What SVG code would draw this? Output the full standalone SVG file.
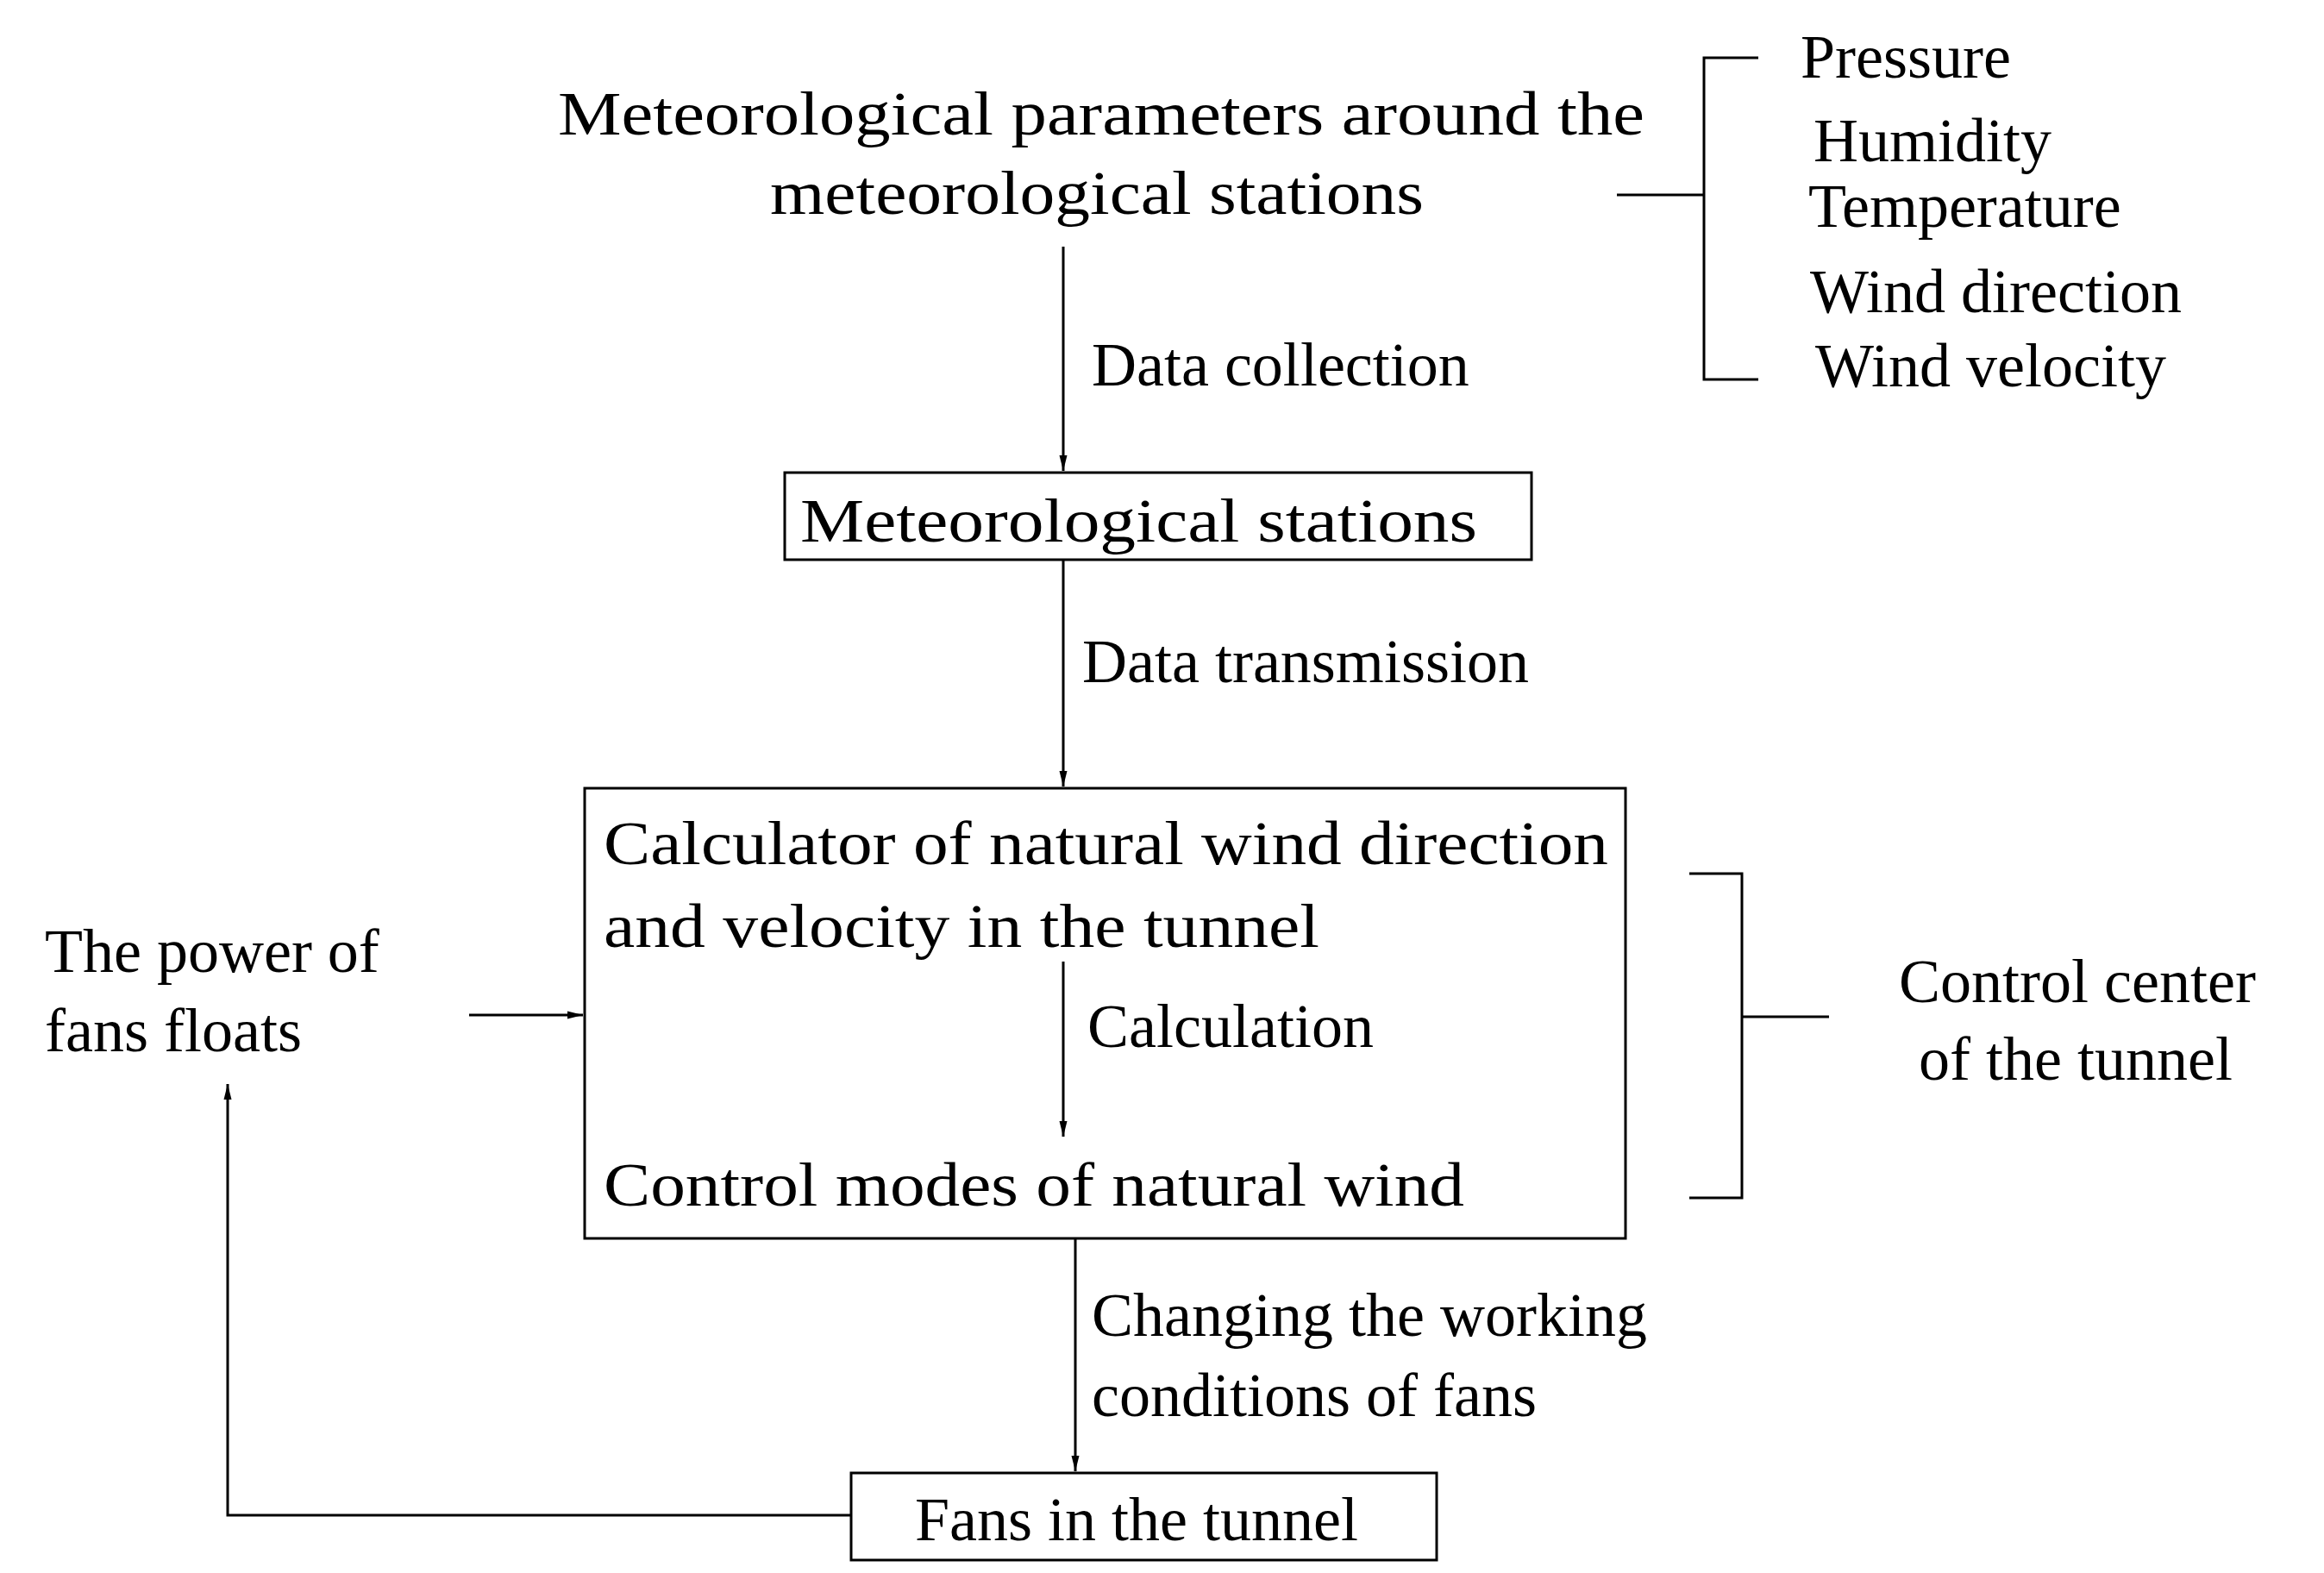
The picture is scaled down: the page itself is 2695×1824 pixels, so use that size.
<svg xmlns="http://www.w3.org/2000/svg" width="2695" height="1824" viewBox="0 0 2695 1824">
<style>
text{font-family:"Liberation Serif","Times New Roman",serif;font-size:72px;fill:#000}
.ln{stroke:#000;stroke-width:3;fill:none}
.bx{stroke:#000;stroke-width:3;fill:#fff}
</style>
<defs><marker id="ar" viewBox="0 0 10 10" refX="10" refY="5" markerWidth="18" markerHeight="18" markerUnits="userSpaceOnUse" orient="auto"><path d="M0,2.5 L10,5 L0,7.5 Z" fill="#000"/></marker></defs>
<g id="params"><text x="647" y="156" textLength="1260" lengthAdjust="spacingAndGlyphs">Meteorological  parameters around the</text><text x="893" y="248" textLength="758" lengthAdjust="spacingAndGlyphs">meteorological stations</text></g>
<g id="list"><text x="2088" y="90">Pressure</text><text x="2103" y="187">Humidity</text><text x="2097" y="263">Temperature</text><text x="2099" y="362">Wind direction</text><text x="2105" y="448">Wind  velocity</text></g>
<g id="stations"><rect class="bx" x="910" y="548" width="866" height="101"/><text x="928" y="628" textLength="785" lengthAdjust="spacingAndGlyphs">Meteorological  stations</text></g>
<g id="center"><rect class="bx" x="678" y="914" width="1207" height="522"/><text x="700" y="1002" textLength="1165" lengthAdjust="spacingAndGlyphs">Calculator of natural wind direction</text><text x="700" y="1098" textLength="830" lengthAdjust="spacingAndGlyphs">and velocity in the tunnel</text><text x="1261" y="1214">Calculation</text><text x="700" y="1398" textLength="998" lengthAdjust="spacingAndGlyphs">Control modes of natural wind</text></g>
<g id="ctrl"><text x="2202" y="1162">Control center</text><text x="2225" y="1252">of the tunnel</text></g>
<g id="power"><text x="52" y="1127">The power of</text><text x="52" y="1219">fans floats</text></g>
<g id="fans"><rect class="bx" x="987" y="1708" width="679" height="101"/><text x="1061" y="1786">Fans in the tunnel</text></g>
<g id="labels"><text x="1266" y="447">Data collection</text><text x="1255" y="791">Data transmission</text><text x="1266" y="1549">Changing the working</text><text x="1266" y="1642">conditions of fans</text></g>
<g id="connectors">
<path class="ln" d="M1875,226 H1976 M2039,67 H1976 V440 H2039"/>
<path class="ln" d="M1959,1013 H2020 V1389 H1959 M2020,1179 H2121"/>
<path class="ln" d="M1233,286 V546" marker-end="url(#ar)"/>
<path class="ln" d="M1233,649 V912" marker-end="url(#ar)"/>
<path class="ln" d="M1233,1115 V1318" marker-end="url(#ar)"/>
<path class="ln" d="M544,1177 H676" marker-end="url(#ar)"/>
<path class="ln" d="M1247,1436 V1706" marker-end="url(#ar)"/>
<path class="ln" d="M987,1757 H264 V1257" marker-end="url(#ar)"/>
</g>
</svg>
